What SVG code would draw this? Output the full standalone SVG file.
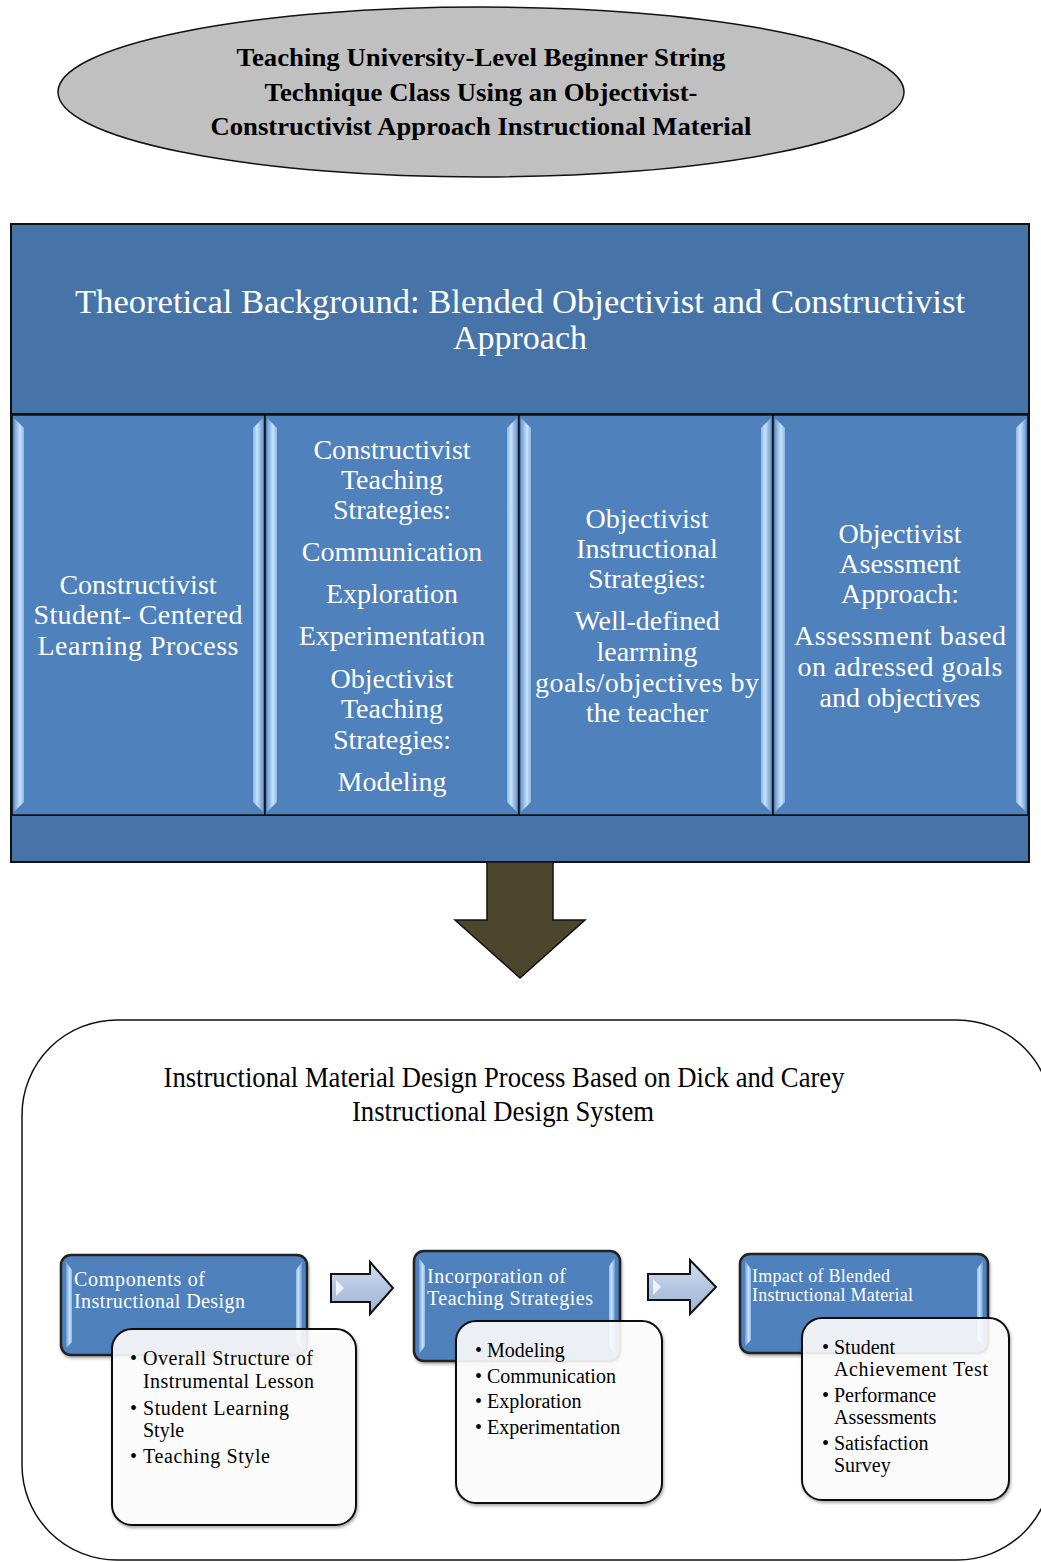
<svg xmlns="http://www.w3.org/2000/svg" width="1041" height="1562" viewBox="0 0 1041 1562">
<defs>
<linearGradient id="bevL" x1="0" y1="0" x2="1" y2="0">
<stop offset="0" stop-color="#6f9bd0"/><stop offset="0.6" stop-color="#c8e2fb"/><stop offset="1" stop-color="#8fb8e6"/>
</linearGradient>
<linearGradient id="bevR" x1="0" y1="0" x2="1" y2="0">
<stop offset="0" stop-color="#8fb8e6"/><stop offset="0.4" stop-color="#c8e2fb"/><stop offset="1" stop-color="#6f9bd0"/>
</linearGradient>
<linearGradient id="arrowFill" x1="0" y1="0" x2="0" y2="1">
<stop offset="0" stop-color="#d3deee"/><stop offset="0.5" stop-color="#b4c6e0"/><stop offset="1" stop-color="#9fb5d6"/>
</linearGradient>
<filter id="sh" x="-10%" y="-10%" width="130%" height="130%">
<feDropShadow dx="1" dy="2" stdDeviation="1.5" flood-color="#000" flood-opacity="0.35"/>
</filter>
</defs>
<style>
.ttl{font-family:"Liberation Serif","Times New Roman",serif;font-weight:bold;font-size:26px;fill:#000;text-anchor:middle}
.wt{font-family:"Liberation Serif","Times New Roman",serif;fill:#fff;text-anchor:middle}
.col{font-size:28px}
.big{font-size:33px}
.bt{font-family:"Liberation Serif","Times New Roman",serif;fill:#000;font-size:20px}
.sub{font-family:"Liberation Serif","Times New Roman",serif;fill:#000;font-size:29px;text-anchor:middle}
.hd{font-family:"Liberation Serif","Times New Roman",serif;fill:#fff;font-size:20px}
.hds{font-family:"Liberation Serif","Times New Roman",serif;fill:#fff;font-size:18px}
.colbox{fill:#4f81bd;stroke:#111;stroke-width:1.5}
.blue{fill:#4674a9;stroke:#111;stroke-width:2}
.pbox{fill:#4f81bd;stroke:#222;stroke-width:2.5}
.wbox{fill:#fff;fill-opacity:0.88;stroke:#111;stroke-width:2}
.arr{fill:url(#arrowFill);stroke:#111;stroke-width:2}
</style>

<g id="title-ellipse">
<ellipse cx="481" cy="92" rx="423" ry="85" fill="#c0c0c0" stroke="#111" stroke-width="1.5"/>
<text class="ttl" x="481" y="66" textLength="489" lengthAdjust="spacingAndGlyphs">Teaching University-Level Beginner String</text>
<text class="ttl" x="481" y="101" textLength="433" lengthAdjust="spacingAndGlyphs">Technique Class Using an Objectivist-</text>
<text class="ttl" x="481" y="135" textLength="541" lengthAdjust="spacingAndGlyphs">Constructivist Approach Instructional Material</text>
</g>

<g id="theoretical-background">
<rect class="blue" x="11" y="224" width="1018" height="638"/>
<text class="wt big" x="520" y="313" textLength="890" lengthAdjust="spacingAndGlyphs">Theoretical Background: Blended Objectivist and Constructivist</text>
<text class="wt big" x="520" y="349" textLength="134" lengthAdjust="spacingAndGlyphs">Approach</text>
<line x1="11" y1="414" x2="1029" y2="414" stroke="#111" stroke-width="2"/>
<line x1="11" y1="815" x2="1029" y2="815" stroke="#111" stroke-width="2"/>
</g>

<g id="col1">
<rect class="colbox" x="12" y="415" width="253" height="400"/>
<polygon points="14,418 24,428 24,802 14,812" fill="url(#bevL)"/>
<polygon points="263,418 253,428 253,802 263,812" fill="url(#bevR)"/>
<text class="wt col" x="138" y="594">Constructivist</text>
<text class="wt col" x="138" y="624" textLength="209" lengthAdjust="spacing">Student- Centered</text>
<text class="wt col" x="138" y="655" textLength="201" lengthAdjust="spacing">Learning Process</text>
</g>

<g id="col2">
<rect class="colbox" x="265" y="415" width="254" height="400"/>
<polygon points="267,418 277,428 277,802 267,812" fill="url(#bevL)"/>
<polygon points="517,418 507,428 507,802 517,812" fill="url(#bevR)"/>
<text class="wt col" x="392" y="459">Constructivist</text>
<text class="wt col" x="392" y="489">Teaching</text>
<text class="wt col" x="392" y="519">Strategies:</text>
<text class="wt col" x="392" y="561">Communication</text>
<text class="wt col" x="392" y="603">Exploration</text>
<text class="wt col" x="392" y="645">Experimentation</text>
<text class="wt col" x="392" y="688">Objectivist</text>
<text class="wt col" x="392" y="718">Teaching</text>
<text class="wt col" x="392" y="749">Strategies:</text>
<text class="wt col" x="392" y="791">Modeling</text>
</g>

<g id="col3">
<rect class="colbox" x="519" y="415" width="254" height="400"/>
<polygon points="521,418 531,428 531,802 521,812" fill="url(#bevL)"/>
<polygon points="771,418 761,428 761,802 771,812" fill="url(#bevR)"/>
<text class="wt col" x="647" y="528">Objectivist</text>
<text class="wt col" x="647" y="558">Instructional</text>
<text class="wt col" x="647" y="588">Strategies:</text>
<text class="wt col" x="647" y="630">Well-defined</text>
<text class="wt col" x="647" y="661">learrning</text>
<text class="wt col" x="647" y="692" textLength="224" lengthAdjust="spacing">goals/objectives by</text>
<text class="wt col" x="647" y="722">the teacher</text>
</g>

<g id="col4">
<rect class="colbox" x="773" y="415" width="255" height="400"/>
<polygon points="775,418 785,428 785,802 775,812" fill="url(#bevL)"/>
<polygon points="1026,418 1016,428 1016,802 1026,812" fill="url(#bevR)"/>
<text class="wt col" x="900" y="543">Objectivist</text>
<text class="wt col" x="900" y="573">Asessment</text>
<text class="wt col" x="900" y="603">Approach:</text>
<text class="wt col" x="900" y="645" textLength="212" lengthAdjust="spacing">Assessment based</text>
<text class="wt col" x="900" y="676" textLength="205" lengthAdjust="spacing">on adressed goals</text>
<text class="wt col" x="900" y="707">and objectives</text>
</g>

<g id="connectors">
<polygon points="487,862 553,862 553,920 585,920 520,978 455,920 487,920" fill="#4b462c" stroke="#111" stroke-width="1.5"/>
<polygon class="arr" points="331,1274 370,1274 370,1262 393,1288 370,1314 370,1302 331,1302"/>
<polygon points="336,1280 344,1288 336,1296" fill="#fff" opacity="0.8"/>
<polygon class="arr" points="648,1274 690,1274 690,1260 716,1287 690,1314 690,1300 648,1300"/>
<polygon points="653,1279 661,1287 653,1295" fill="#fff" opacity="0.8"/>
</g>

<g id="design-process">
<rect x="22" y="1020" width="1030" height="540" rx="95" ry="95" fill="none" stroke="#111" stroke-width="1.5"/>
<text class="sub" x="504" y="1087" textLength="681" lengthAdjust="spacingAndGlyphs">Instructional Material Design Process Based on Dick and Carey</text>
<text class="sub" x="503" y="1121" textLength="302" lengthAdjust="spacingAndGlyphs">Instructional Design System</text>
</g>

<g id="box1">
<rect class="pbox" x="61" y="1255" width="246" height="100" rx="10" filter="url(#sh)"/>
<polygon points="66,1262 72,1270 72,1342 66,1348" fill="url(#bevL)"/>
<polygon points="302,1262 296,1270 296,1342 302,1348" fill="url(#bevR)"/>
<text class="hd" x="74" y="1286" textLength="131" lengthAdjust="spacing">Components of</text>
<text class="hd" x="74" y="1308" textLength="171" lengthAdjust="spacing">Instructional Design</text>
</g>
<g id="list1">
<rect class="wbox" x="112" y="1329" width="244" height="196" rx="20" filter="url(#sh)"/>
<text class="bt" x="130" y="1365">•</text><text class="bt" x="143" y="1365" textLength="170" lengthAdjust="spacing">Overall Structure of</text>
<text class="bt" x="143" y="1388" textLength="171" lengthAdjust="spacing">Instrumental Lesson</text>
<text class="bt" x="130" y="1415">•</text><text class="bt" x="143" y="1415" textLength="146" lengthAdjust="spacing">Student Learning</text>
<text class="bt" x="143" y="1437">Style</text>
<text class="bt" x="130" y="1463">•</text><text class="bt" x="143" y="1463" textLength="127" lengthAdjust="spacing">Teaching Style</text>
</g>

<g id="box2">
<rect class="pbox" x="414" y="1251" width="206" height="110" rx="10" filter="url(#sh)"/>
<polygon points="419,1258 425,1266 425,1346 419,1354" fill="url(#bevL)"/>
<polygon points="615,1258 609,1266 609,1346 615,1354" fill="url(#bevR)"/>
<text class="hd" x="427" y="1283" textLength="139" lengthAdjust="spacing">Incorporation of</text>
<text class="hd" x="427" y="1305" textLength="166" lengthAdjust="spacing">Teaching Strategies</text>
</g>
<g id="list2">
<rect class="wbox" x="456" y="1321" width="206" height="182" rx="20" filter="url(#sh)"/>
<text class="bt" x="475" y="1357">•</text><text class="bt" x="487" y="1357">Modeling</text>
<text class="bt" x="475" y="1383">•</text><text class="bt" x="487" y="1383">Communication</text>
<text class="bt" x="475" y="1408">•</text><text class="bt" x="487" y="1408">Exploration</text>
<text class="bt" x="475" y="1434">•</text><text class="bt" x="487" y="1434">Experimentation</text>
</g>

<g id="box3">
<rect class="pbox" x="740" y="1254" width="248" height="99" rx="10" filter="url(#sh)"/>
<polygon points="745,1261 751,1269 751,1340 745,1346" fill="url(#bevL)"/>
<polygon points="983,1261 977,1269 977,1340 983,1346" fill="url(#bevR)"/>
<text class="hds" x="752" y="1282" textLength="138" lengthAdjust="spacing">Impact of Blended</text>
<text class="hds" x="752" y="1301" textLength="161" lengthAdjust="spacing">Instructional Material</text>
</g>
<g id="list3">
<rect class="wbox" x="802" y="1318" width="207" height="182" rx="20" filter="url(#sh)"/>
<text class="bt" x="822" y="1354">•</text><text class="bt" x="834" y="1354">Student</text>
<text class="bt" x="834" y="1376" textLength="154" lengthAdjust="spacing">Achievement Test</text>
<text class="bt" x="822" y="1402">•</text><text class="bt" x="834" y="1402">Performance</text>
<text class="bt" x="834" y="1424">Assessments</text>
<text class="bt" x="822" y="1450">•</text><text class="bt" x="834" y="1450">Satisfaction</text>
<text class="bt" x="834" y="1472">Survey</text>
</g>
</svg>
